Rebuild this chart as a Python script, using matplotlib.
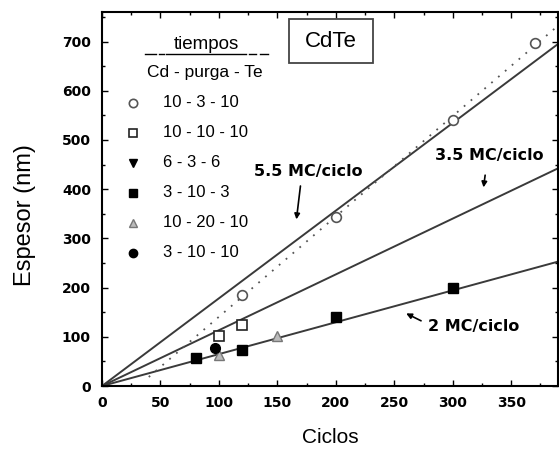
import matplotlib
matplotlib.use("Agg")
import matplotlib.pyplot as plt
from matplotlib.patches import Rectangle
import numpy as np

plt.rcParams['font.family'] = ['Liberation Sans', 'DejaVu Sans']

# legend labels (Cd-purga-Te times) and measured points
series_labels = ['10 - 3 - 10', '10 - 10 - 10', '6 - 3 - 6', '3 - 10 - 3',
                 '10 - 20 - 10', '3 - 10 - 10']
x_10_3_10 = [120, 200, 300, 370]
y_10_3_10 = [185, 343, 540, 698]
x_10_10_10 = [100, 120]
y_10_10_10 = [102, 124]
x_6_3_6 = []
y_6_3_6 = []
x_3_10_3 = [80, 120, 200, 300]
y_3_10_3 = [57, 73, 140, 200]
x_10_20_10 = [100, 150]
y_10_20_10 = [63, 101]
x_3_10_10 = [97]
y_3_10_10 = [77]

# growth rates (monolayers per cycle) and CdTe monolayer thickness (nm)
rates = [5.5, 3.5, 2]
rate_labels = ['5.5 MC/ciclo', '3.5 MC/ciclo', '2 MC/ciclo']
ml_nm = 0.324

x_ticks = [0, 50, 100, 150, 200, 250, 300, 350]
y_ticks = [0, 100, 200, 300, 400, 500, 600, 700]

fig = plt.figure(figsize=(5.59, 4.49), dpi=100)
ax = fig.add_axes([0.1825, 0.1403, 0.8157, 0.833])
ax.set_xlim(0, 390)
ax.set_ylim(0, 760)

line_col = '#3a3a3a'
xx = np.array([0, 390])
for r in rates:
    ax.plot(xx, r * ml_nm * xx, color=line_col, lw=1.4, zorder=2)

# dotted fit through the 10-3-10 points
p = np.polyfit(x_10_3_10, y_10_3_10, 1)
xd = np.array([40, 390])
ax.plot(xd, np.polyval(p, xd), color='#555555', lw=1.3,
        linestyle=(0, (1, 4)), zorder=2)

ms = 7
styles = [
    (x_10_3_10, y_10_3_10, dict(marker='o', mfc='white', mec='#555555', mew=1.2)),
    (x_10_10_10, y_10_10_10, dict(marker='s', mfc='white', mec='#222222', mew=1.2)),
    (x_6_3_6, y_6_3_6, dict(marker='v', mfc='black', mec='black')),
    (x_3_10_3, y_3_10_3, dict(marker='s', mfc='black', mec='black')),
    (x_10_20_10, y_10_20_10, dict(marker='^', mfc='#bbbbbb', mec='#777777', mew=1.0)),
    (x_3_10_10, y_3_10_10, dict(marker='o', mfc='black', mec='black')),
]
for (xs, ys, st) in styles:
    ax.plot(xs, ys, linestyle='none', ms=ms, zorder=3, **st)

# hand-made legend block
ax.text(0.228, 0.912, 'tiempos', transform=ax.transAxes, ha='center', va='center',
        fontsize=13.5)
ax.plot([0.14, 0.315], [0.888, 0.888], transform=ax.transAxes, color='black', lw=1.0)
for a, b in [(0.094, 0.118), (0.124, 0.135), (0.322, 0.338), (0.346, 0.364)]:
    ax.plot([a, b], [0.888, 0.888], transform=ax.transAxes, color='black', lw=1.0)
ax.text(0.225, 0.837, 'Cd - purga - Te', transform=ax.transAxes, ha='center',
        va='center', fontsize=12.5)
row_y = 0.757
for lab, (xs, ys, st) in zip(series_labels, styles):
    ax.plot([0.068], [row_y], transform=ax.transAxes, linestyle='none', ms=6,
            clip_on=False, **st)
    ax.text(0.134, row_y, lab, transform=ax.transAxes, ha='left', va='center',
            fontsize=12)
    row_y -= 0.0802

ax.add_patch(Rectangle((0.41, 0.864), 0.184, 0.117, transform=ax.transAxes,
                       fc='white', ec='#444444', lw=1.3, zorder=4))
ax.text(0.502, 0.922, 'CdTe', transform=ax.transAxes, ha='center', va='center',
        fontsize=16, zorder=5)

# rate annotations
ann = [((130, 436), (170, 412), (166, 333)),
       ((285, 469), (328, 434), (326, 398)),
       ((279, 120), (275, 130), (258, 150))]
for lab, (txt, tail, head) in zip(rate_labels, ann):
    ax.text(txt[0], txt[1], lab, ha='left', va='center', fontsize=11.5,
            fontweight='bold', family='DejaVu Sans')
    ax.annotate('', xy=head, xytext=tail,
                arrowprops=dict(arrowstyle='-|>', color='black', lw=1.2,
                                mutation_scale=8))

ax.set_xticks(x_ticks)
ax.set_yticks(y_ticks)
ax.set_xticks(np.arange(25, 390, 50), minor=True)
ax.set_yticks(np.arange(50, 760, 100), minor=True)
ax.tick_params(which='both', direction='in', top=True, right=True, width=1.0)
ax.tick_params(which='major', length=4)
ax.tick_params(which='minor', length=2)
ax.tick_params(axis='y', pad=8)
ax.tick_params(axis='x', pad=7)
for lbl in ax.get_xticklabels() + ax.get_yticklabels():
    lbl.set_fontweight('bold')
    lbl.set_fontsize(10)
    lbl.set_family('DejaVu Sans')
for s in ax.spines.values():
    s.set_linewidth(1.5)

ax.set_xlabel('Ciclos', fontsize=15, labelpad=13)
ax.set_ylabel('Espesor (nm)', fontsize=17, labelpad=14)
ax.yaxis.set_label_coords(-0.145, 0.457)

fig.savefig('out.png', dpi=100)
